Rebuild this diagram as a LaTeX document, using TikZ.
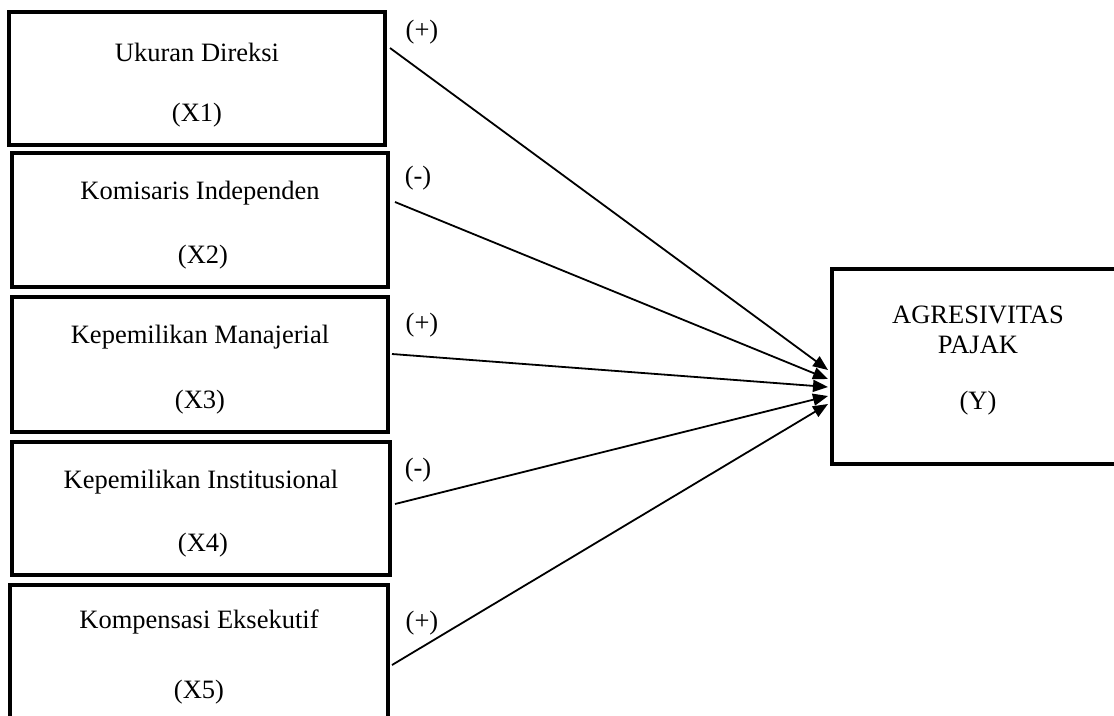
\documentclass[tikz,border=0pt]{standalone}
\usepackage{fontspec}
\setmainfont{Liberation Serif}
\usetikzlibrary{arrows.meta}
\begin{document}
\begin{tikzpicture}[x=1pt,y=-1pt,
  box/.style={draw,line width=3.2pt,inner sep=0pt},
  txt/.style={font=\fontsize{26.5}{30}\selectfont,inner sep=0pt},
  conn/.style={line width=1.8pt,-{Triangle[length=15pt,width=12pt]}}]
\useasboundingbox (0,0) rectangle (1114,715);
\node[box,minimum width=376pt,minimum height=133pt] (b1) at (197,78.5) {};
\node[box,minimum width=376pt,minimum height=134pt] (b2) at (200,220) {};
\node[box,minimum width=376pt,minimum height=135pt] (b3) at (200,364.5) {};
\node[box,minimum width=378pt,minimum height=133pt] (b4) at (201,508.5) {};
\node[box,minimum width=378pt,minimum height=135pt] (b5) at (199,652.5) {};
\node[box,minimum width=292pt,minimum height=195pt] (y) at (978,366.5) {};
\node[txt] (n1) at (197,52) {Ukuran Direksi};
\node[txt] (v1) at (197,115) {(X1)};
\node[txt] (n2) at (200,193) {Komisaris Independen};
\node[txt] (v2) at (203,257) {(X2)};
\node[txt] (n3) at (200,337) {Kepemilikan Manajerial};
\node[txt] (v3) at (200,402) {(X3)};
\node[txt] (n4) at (201,482) {Kepemilikan Institusional};
\node[txt] (v4) at (203,545) {(X4)};
\node[txt] (n5) at (199,622) {Kompensasi Eksekutif};
\node[txt] (v5) at (199,692) {(X5)};
\node[txt] (ya) at (978,315) {AGRESIVITAS};
\node[txt] (yb) at (978,345) {PAJAK};
\node[txt] (yc) at (978,403) {(Y)};
\node[txt] (l1) at (422,32) {(+)};
\node[txt] (l2) at (418,178) {(-)};
\node[txt] (l3) at (422,325) {(+)};
\node[txt] (l4) at (418,470) {(-)};
\node[txt] (l5) at (422,623) {(+)};
\coordinate (s1) at (390,48);
\coordinate (s2) at (395,202);
\coordinate (s3) at (392,354);
\coordinate (s4) at (395,504);
\coordinate (s5) at (392,665);
\coordinate (t1) at (828,370);
\coordinate (t2) at (828,379);
\coordinate (t3) at (828,387);
\coordinate (t4) at (828,396);
\coordinate (t5) at (828,404);
\draw[conn] (s1) -- (t1);
\draw[conn] (s2) -- (t2);
\draw[conn] (s3) -- (t3);
\draw[conn] (s4) -- (t4);
\draw[conn] (s5) -- (t5);
\end{tikzpicture}
\end{document}
